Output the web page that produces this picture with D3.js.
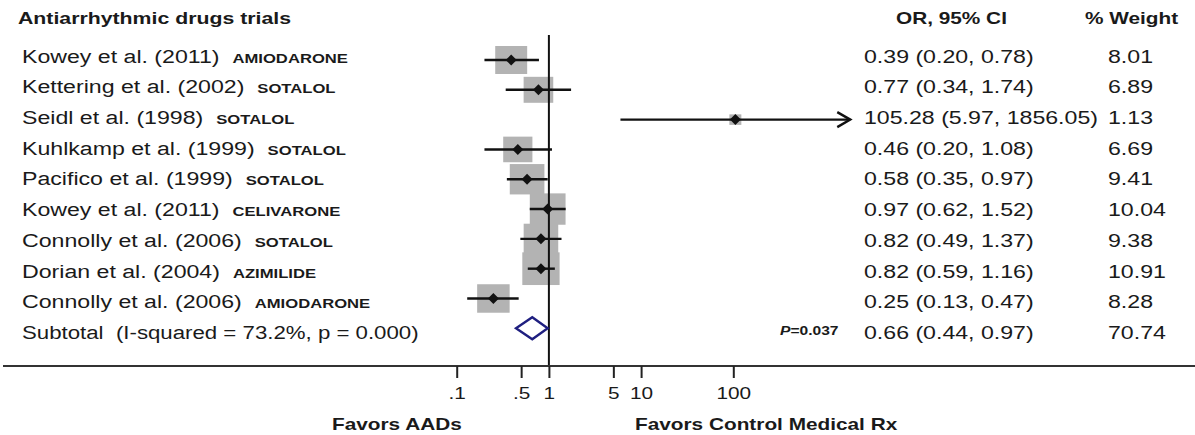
<!DOCTYPE html>
<html>
<head>
<meta charset="utf-8">
<script src="https://cdn.jsdelivr.net/npm/d3@7"></script>
<style>
  html, body { margin: 0; padding: 0; background: #fff; }
  svg { display: block; font-family: "Liberation Sans", Arial, Helvetica, sans-serif; }
</style>
</head>
<body>
<svg id="chart" width="1195" height="435"></svg>
<script>
// Forest plot: antiarrhythmic drug trials, odds ratios on a log scale
const studies = ["Kowey et al. (2011)", "Kettering et al. (2002)", "Seidl et al. (1998)",
  "Kuhlkamp et al. (1999)", "Pacifico et al. (1999)", "Kowey et al. (2011)",
  "Connolly et al. (2006)", "Dorian et al. (2004)", "Connolly et al. (2006)"];
const drugs = ["AMIODARONE", "SOTALOL", "SOTALOL", "SOTALOL", "SOTALOL",
  "CELIVARONE", "SOTALOL", "AZIMILIDE", "AMIODARONE"];
const oddsRatio = [0.39, 0.77, 105.28, 0.46, 0.58, 0.97, 0.82, 0.82, 0.25];
const ciLower   = [0.20, 0.34, 5.97, 0.20, 0.35, 0.62, 0.49, 0.59, 0.13];
const ciUpper   = [0.78, 1.74, 1856.05, 1.08, 0.97, 1.52, 1.37, 1.16, 0.47];
const weights   = [8.01, 6.89, 1.13, 6.69, 9.41, 10.04, 9.38, 10.91, 8.28];

const subtotalLabel = "Subtotal\u00A0 (I-squared = 73.2%, p = 0.000)";
const subtotalEstimate = [0.66, 0.44, 0.97];   // OR, lower, upper
const subtotalWeight = 70.74;
const subtotalP = "0.037";

const tickValues = [0.1, 0.5, 1, 5, 10, 100];
const tickLabels = [".1", ".5", "1", "5", "10", "100"];

const titleText = "Antiarrhythmic drugs trials";
const headerCI = "OR, 95% CI";
const headerWeight = "% Weight";
const favorLeft = "Favors AADs";
const favorRight = "Favors Control Medical Rx";

// ---- layout ----
const svg = d3.select("#chart");
const SX = 1.3;                       // horizontal stretch applied to all text
const ink = "#1a1a1a";
const nRows = studies.length + 1;      // studies + subtotal
const rowIdx = d3.range(nRows);

const x = d3.scaleLog().domain([0.1, 100]).range([456.7, 733.3]);
const yMark = d3.scalePoint().domain(rowIdx).range([60, 328.3]);
const yText = d3.scalePoint().domain(rowIdx).range([62.5, 339]);
const boxW = d3.scaleSqrt().domain([0, 10]).range([0, 35.7]);
const boxH = d3.scaleSqrt().domain([0, 10]).range([0, 31.3]);
const axisY = 366;
const fmt = d3.format(".2f");

function text(g, x0, y0, str, opts = {}) {
  const t = g.append("text")
    .attr("transform", `translate(${x0},${y0}) scale(${opts.sx || SX},1)`)
    .attr("font-size", opts.size || 17.8)
    .attr("font-weight", opts.weight || "normal")
    .attr("text-anchor", opts.anchor || "start")
    .attr("fill", opts.fill || ink)
    .text(str);
  return t;
}

const gText = svg.append("g");

// headers
text(gText, 18, 24, titleText, { size: 16, weight: "bold", sx: 1.33 });
text(gText, 896, 24, headerCI, { size: 16, weight: "bold" });
text(gText, 1085, 24, headerWeight, { size: 16, weight: "bold" });

// study labels with drug names
studies.forEach((s, i) => {
  const t = text(gText, 22, yText(i), s);
  const w = t.node().getComputedTextLength() * SX;
  text(gText, 22 + w + 13, yText(i), drugs[i], { size: 12.8, weight: "bold" });
  text(gText, 864, yText(i), `${fmt(oddsRatio[i])} (${fmt(ciLower[i])}, ${fmt(ciUpper[i])})`);
  text(gText, 1108, yText(i), fmt(weights[i]));
});

// subtotal row
const sIdx = studies.length;
text(gText, 22, yText(sIdx), subtotalLabel, { sx: 1.25 });
text(gText, 864, yText(sIdx),
  `${fmt(subtotalEstimate[0])} (${fmt(subtotalEstimate[1])}, ${fmt(subtotalEstimate[2])})`);
text(gText, 1108, yText(sIdx), fmt(subtotalWeight));
const pText = text(gText, 780, yText(sIdx) - 4, "", { size: 12, weight: "bold" });
pText.append("tspan").attr("font-style", "italic").text("P");
pText.append("tspan").text("=" + subtotalP);

// ---- plot marks ----
const gPlot = svg.append("g");

// weight boxes
gPlot.selectAll("rect.box")
  .data(d3.range(studies.length))
  .join("rect")
  .attr("class", "box")
  .attr("x", i => x(oddsRatio[i]) - boxW(weights[i]) / 2)
  .attr("y", i => yMark(i) - boxH(weights[i]) / 2)
  .attr("width", i => boxW(weights[i]))
  .attr("height", i => boxH(weights[i]))
  .attr("fill", "#b3b3b3");

// line of no effect
gPlot.append("line")
  .attr("x1", x(1)).attr("x2", x(1))
  .attr("y1", 35).attr("y2", axisY)
  .attr("stroke", "#111").attr("stroke-width", 2);

// confidence intervals
gPlot.selectAll("line.ci")
  .data(d3.range(studies.length))
  .join("line")
  .attr("class", "ci")
  .attr("x1", i => x(ciLower[i]))
  .attr("x2", i => x(ciUpper[i]))
  .attr("y1", i => yMark(i))
  .attr("y2", i => yMark(i))
  .attr("stroke", "#111")
  .attr("stroke-width", 2.4);

// arrowheads where the interval runs past the last tick
d3.range(studies.length).filter(i => ciUpper[i] > tickValues[tickValues.length - 1]).forEach(i => {
  const ex = x(ciUpper[i]), ey = yMark(i);
  gPlot.append("path")
    .attr("d", `M${ex - 13},${ey - 7.5} L${ex},${ey} L${ex - 13},${ey + 7.5}`)
    .attr("fill", "none").attr("stroke", "#111").attr("stroke-width", 2.4);
});

// point estimates
gPlot.selectAll("path.pt")
  .data(d3.range(studies.length))
  .join("path")
  .attr("class", "pt")
  .attr("d", i => {
    const cx = x(oddsRatio[i]), cy = yMark(i), r = 5.5;
    return `M${cx - r},${cy} L${cx},${cy - r} L${cx + r},${cy} L${cx},${cy + r} Z`;
  })
  .attr("fill", "#111");

// pooled estimate diamond
{
  const cy = yMark(sIdx), h = 11;
  const [e, l, u] = subtotalEstimate.map(v => x(v));
  gPlot.append("path")
    .attr("d", `M${l},${cy} L${e},${cy - h} L${u},${cy} L${e},${cy + h} Z`)
    .attr("fill", "#fff")
    .attr("stroke", "#1f1f80")
    .attr("stroke-width", 2.4)
    .attr("stroke-linejoin", "miter");
}

// ---- x axis ----
svg.append("line")
  .attr("x1", 3).attr("x2", 1195)
  .attr("y1", axisY).attr("y2", axisY)
  .attr("stroke", "#333").attr("stroke-width", 2.2);

const axis = d3.axisBottom(x)
  .tickValues(tickValues)
  .tickFormat((d, i) => tickLabels[i])
  .tickSize(12)
  .tickPadding(9);

const gAxis = svg.append("g").attr("transform", `translate(0,${axisY})`).call(axis);
gAxis.select(".domain").remove();
gAxis.selectAll(".tick line").attr("stroke", "#222").attr("stroke-width", 2);
gAxis.selectAll(".tick text")
  .attr("font-size", 16)
  .attr("font-family", "'Liberation Sans', Arial, sans-serif")
  .attr("fill", ink)
  .attr("dy", null)
  .attr("y", 33)
  .attr("transform", `scale(${SX},1)`)
  .attr("x", 0);

// direction labels
text(svg, 332, 430, favorLeft, { size: 16, weight: "bold" });
text(svg, 635, 430, favorRight, { size: 16, weight: "bold" });
</script>
</body>
</html>
